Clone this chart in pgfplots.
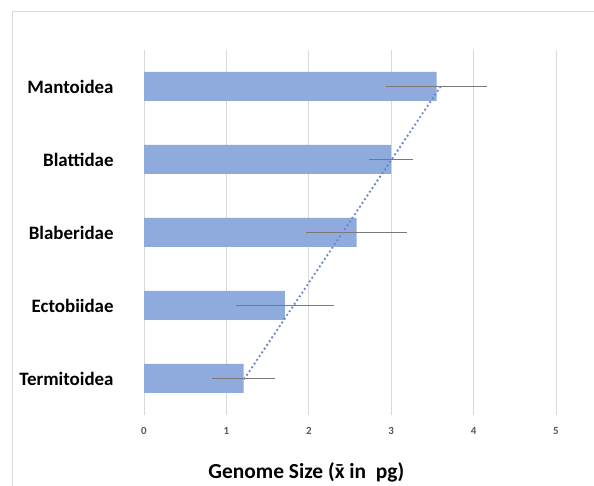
\documentclass[border=0pt]{standalone}
\usepackage{fontspec}
\setmainfont{Carlito}
\usepackage{pgfplots}
\pgfplotsset{compat=1.18}
\definecolor{barblue}{RGB}{143,170,220}
\definecolor{trendblue}{RGB}{105,135,200}
\definecolor{errgray}{RGB}{125,118,118}
\definecolor{gridgray}{RGB}{217,217,217}
\definecolor{ticktext}{RGB}{89,89,89}
\newcommand{\xbar}{\accent"00AF x}
\begin{document}
\begin{tikzpicture}[x=1bp,y=1bp]
\useasboundingbox (0,0) rectangle (594,486);
% chart frame
\draw[gridgray, line width=1bp] (12.5,-5) -- (12.5,474) -- (600,474);
\begin{axis}[
    at={(144bp,71bp)}, anchor=south west,
    scale only axis,
    width=412bp, height=365bp,
    xbar, bar width=29bp,
    xmin=0, xmax=5,
    ymin=0.5, ymax=5.5,
    xtick={0,1,2,3,4,5},
    ytick={1,2,3,4,5},
    yticklabels={Termitoidea,Ectobiidae,Blaberidae,Blattidae,Mantoidea},
    axis line style={draw=none},
    major tick style={draw=none},
    xmajorgrids=true,
    grid style={gridgray, line width=1bp},
    /pgf/number format/assume math mode=true,
    xticklabel style={font=\fontsize{11}{12}\selectfont\bfseries, text=ticktext, inner sep=0pt, anchor=north, yshift=-12bp},
    yticklabel style={font=\fontsize{19}{22}\selectfont\bfseries, inner sep=0pt, anchor=east, xshift=-26bp},
    xlabel={Genome Size (\xbar\ in~~pg)},
    xlabel style={font=\fontsize{21.5}{24}\selectfont\bfseries, at={(axis description cs:0.394,0)}, anchor=center, yshift=-57bp},
    clip=false,
]
\addplot[fill=barblue, draw=none,
    error bars/.cd, x dir=both, x explicit, error mark=none,
    error bar style={errgray, line width=1.2bp}]
    coordinates {
    (1.21,1) +- (0.38,0)
    (1.71,2) +- (0.59,0)
    (2.58,3) +- (0.61,0)
    (3.00,4) +- (0.27,0)
    (3.55,5) +- (0.61,0)
    };
% linear trend line, end points
\addplot[sharp plot, trendblue, line width=2.6bp, line cap=round, dash pattern=on 0pt off 4.5bp, forget plot]
    coordinates {(1.22,1) (3.60,5)};
\end{axis}
\end{tikzpicture}
\end{document}
